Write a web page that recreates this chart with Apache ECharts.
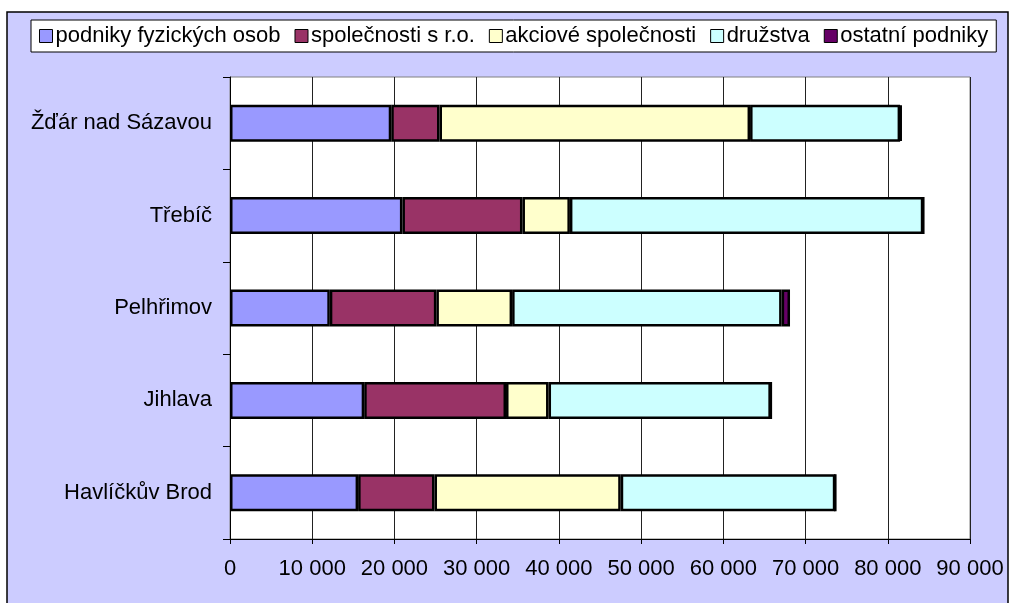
<!DOCTYPE html>
<html>
<head>
<meta charset="utf-8">
<script src="https://cdn.jsdelivr.net/npm/echarts@6/dist/echarts.min.js"></script>
<style>
  html, body { margin: 0; padding: 0; background: #fff; }
  #chart { width: 1013px; height: 603px; }
</style>
</head>
<body>
<div id="chart"></div>
<script>
// kraj Vysočina – okresy (odspodu nahoru jako v grafu)
const okresy = ['Havlíčkův Brod', 'Jihlava', 'Pelhřimov', 'Třebíč', 'Žďár nad Sázavou'];
const fyzickeOsoby = [15580, 16320, 12140, 20970, 19610];
const sro = [9290, 17250, 12960, 14600, 5870];
const akciove = [22650, 5170, 9210, 5770, 37770];
const druzstva = [26100, 27040, 32780, 42980, 18250];
const ostatni = [0, 0, 1020, 0, 150];
const osaX = [0, 10000, 20000, 30000, 40000, 50000, 60000, 70000, 80000, 90000];

const font = '"Liberation Sans", Arial, sans-serif';
const myChart = echarts.init(document.getElementById('chart'));

function serie(name, data, color) {
  return {
    name,
    type: 'bar',
    stack: 'celkem',
    barWidth: '40%',
    itemStyle: { color, borderColor: '#000', borderWidth: 2.5 },
    data,
  };
}

const option = {
  backgroundColor: '#fff',
  animation: false,
  textStyle: { fontFamily: font },
  graphic: [{
    type: 'rect',
    z: -10,
    shape: { x: 7, y: 12, width: 1001, height: 600 },
    style: { fill: '#ccccff', stroke: '#000', lineWidth: 1.5 },
  }],
  legend: {
    left: 31,
    top: 20,
    padding: [5, 8],
    itemGap: 14,
    itemWidth: 13,
    itemHeight: 13,
    icon: 'rect',
    backgroundColor: '#fff',
    borderColor: '#000',
    borderWidth: 1,
    itemStyle: { borderColor: '#000', borderWidth: 1 },
    textStyle: { fontSize: 22, color: '#000', fontFamily: font, padding: [0, 0, 0, -2] },
    data: ['podniky fyzických osob', 'společnosti s r.o.', 'akciové společnosti', 'družstva', 'ostatní podniky'],
  },
  grid: {
    left: 230,
    right: 43,
    top: 77,
    bottom: 64,
    show: true,
    backgroundColor: '#fff',
    borderColor: '#808080',
    borderWidth: 1,
  },
  xAxis: {
    type: 'value',
    min: osaX[0],
    max: osaX[osaX.length - 1],
    interval: osaX[1] - osaX[0],
    axisLine: { show: true, lineStyle: { color: '#000', width: 1 } },
    axisTick: { show: true, length: 5, lineStyle: { color: '#000' } },
    splitLine: { show: true, lineStyle: { color: '#222', width: 1 } },
    axisLabel: {
      fontSize: 22,
      color: '#000',
      fontFamily: font,
      margin: 19,
      formatter: (v) => String(v).replace(/\B(?=(\d{3})+(?!\d))/g, ' '),
    },
  },
  yAxis: {
    type: 'category',
    data: okresy,
    axisLine: { show: true, lineStyle: { color: '#000', width: 1 } },
    axisTick: { show: true, length: 7, lineStyle: { color: '#000' } },
    axisLabel: { fontSize: 22, color: '#000', fontFamily: font, margin: 18 },
  },
  series: [
    serie('podniky fyzických osob', fyzickeOsoby, '#9999ff'),
    serie('společnosti s r.o.', sro, '#993366'),
    serie('akciové společnosti', akciove, '#ffffcc'),
    serie('družstva', druzstva, '#ccffff'),
    serie('ostatní podniky', ostatni, '#660066'),
  ],
};

myChart.setOption(option);
</script>
</body>
</html>
